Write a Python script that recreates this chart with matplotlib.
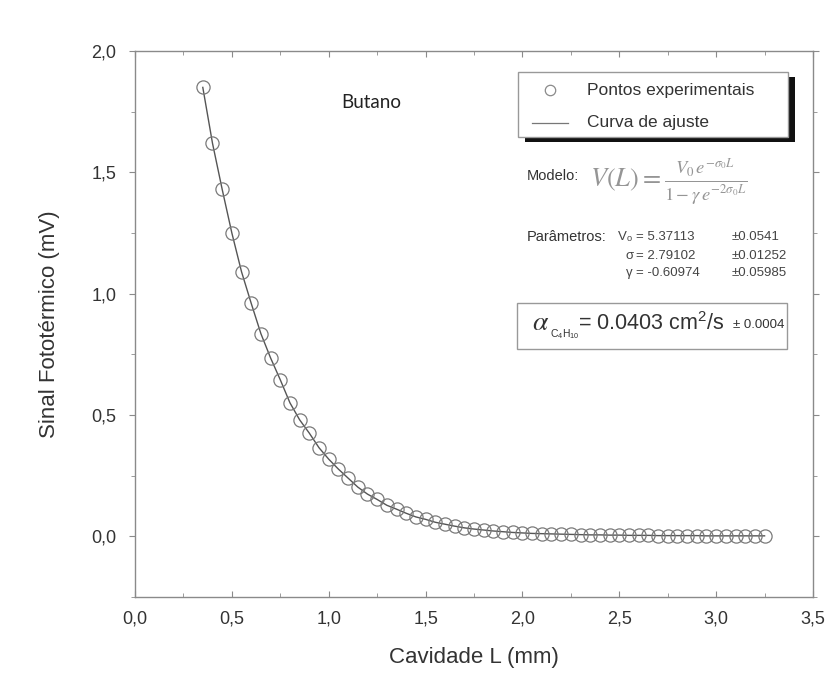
import numpy as np
import matplotlib.pyplot as plt
from matplotlib.ticker import MultipleLocator, FuncFormatter
from matplotlib.patches import Rectangle
from matplotlib.lines import Line2D

# dados
cavidade = [0.35, 0.40, 0.45, 0.50, 0.55, 0.60, 0.65, 0.70, 0.75, 0.80,
            0.85, 0.90, 0.95, 1.00, 1.05, 1.10, 1.15, 1.20, 1.25, 1.30,
            1.35, 1.40, 1.45, 1.50, 1.55, 1.60, 1.65, 1.70, 1.75, 1.80,
            1.85, 1.90, 1.95, 2.00, 2.05, 2.10, 2.15, 2.20, 2.25, 2.30,
            2.35, 2.40, 2.45, 2.50, 2.55, 2.60, 2.65, 2.70, 2.75, 2.80,
            2.85, 2.90, 2.95, 3.00, 3.05, 3.10, 3.15, 3.20, 3.25]
sinal = [1.85, 1.62, 1.43, 1.25, 1.09, 0.96, 0.835, 0.735, 0.645, 0.55,
         0.48, 0.425, 0.365, 0.318, 0.277, 0.24, 0.203, 0.174, 0.152, 0.128,
         0.112, 0.095, 0.080, 0.070, 0.058, 0.050, 0.042, 0.035, 0.030, 0.026,
         0.022, 0.019, 0.016, 0.014, 0.012, 0.011, 0.010, 0.009, 0.008, 0.007,
         0.006, 0.006, 0.005, 0.005, 0.004, 0.004, 0.004, 0.003, 0.003, 0.003,
         0.003, 0.003, 0.002, 0.002, 0.002, 0.002, 0.002, 0.002, 0.002]

W, H = 828, 689
def px(x, y):
    return x / W, 1 - y / H

plt.rcParams['font.family'] = ['Liberation Sans', 'DejaVu Sans']
plt.rcParams['mathtext.fontset'] = 'stix'
cor_txt = '#333333'
cor_eixo = '#8a8a8a'

fig = plt.figure(figsize=(8.28, 6.89), dpi=100)
ax = fig.add_axes([135 / W, 1 - 597 / H, (813 - 135) / W, (597 - 51) / H])

# curva de ajuste e pontos
ax.plot(cavidade, sinal, '-', color='#555555', lw=1.0, zorder=2)
ax.plot(cavidade, sinal, 'o', mfc='none', mec='#7a7a7a', mew=0.9, ms=9.5, zorder=3)

ax.set_xlim(0, 3.5)
ax.set_ylim(-0.25, 2.0)
ax.xaxis.set_major_locator(MultipleLocator(0.5))
ax.xaxis.set_minor_locator(MultipleLocator(0.25))
ax.yaxis.set_major_locator(MultipleLocator(0.5))
ax.yaxis.set_minor_locator(MultipleLocator(0.25))
virgula = FuncFormatter(lambda v, p: '{:.1f}'.format(v).replace('.', ','))
ax.xaxis.set_major_formatter(virgula)
ax.yaxis.set_major_formatter(virgula)

for s in ax.spines.values():
    s.set_color(cor_eixo)
    s.set_linewidth(1.0)
ax.tick_params(which='both', colors=cor_eixo, labelcolor=cor_txt, labelsize=13,
               top=True, right=True)
ax.tick_params(axis='x', which='both', direction='in', pad=10)
ax.tick_params(axis='y', which='both', direction='out', pad=9)
ax.tick_params(which='major', length=4.5)
ax.tick_params(which='minor', length=3)

ax.set_xlabel('Cavidade L (mm)', fontsize=16, color=cor_txt)
ax.set_ylabel('Sinal Fototérmico (mV)', fontsize=16, color=cor_txt)
ax.xaxis.set_label_coords(0.5, (597 - 647) / 546)
ax.yaxis.set_label_coords((60 - 135) / 678, 0.5)

# titulo interno
fig.text(*px(341, 103), 'Butano', fontsize=13.5, family='Lato', color='#222222',
         va='center', ha='left')

# legenda desenhada
x0, y0 = px(518, 137)
lw_, lh_ = (788 - 518) / W, (137 - 72) / H
fig.patches.append(Rectangle((x0 + 7 / W, y0 - 5 / H), lw_, lh_, transform=fig.transFigure,
                             facecolor='#111111', edgecolor='none', zorder=5))
fig.patches.append(Rectangle((x0, y0), lw_, lh_, transform=fig.transFigure,
                             facecolor='white', edgecolor='#999999', lw=1.0, zorder=6))
fig.lines.append(Line2D([px(550, 0)[0]], [px(0, 90)[1]], marker='o', mfc='none',
                        mec='#8a8a8a', mew=0.9, ms=7.5, transform=fig.transFigure, zorder=7))
fig.lines.append(Line2D([px(532, 0)[0], px(568, 0)[0]], [px(0, 123)[1]] * 2,
                        color='#777777', lw=0.9, transform=fig.transFigure, zorder=7))
fig.text(*px(587, 90), 'Pontos experimentais', fontsize=12.5, color='#333333',
         va='center', zorder=8)
fig.text(*px(587, 123), 'Curva de ajuste', fontsize=12.5, color='#333333',
         va='center', zorder=8)

# modelo
fig.text(*px(527, 176), 'Modelo:', fontsize=10.5, color='#333333', va='center')
fig.text(*px(590, 182), r'$V(L)=\frac{V_0\,e^{-\sigma_0 L}}{1-\gamma\,e^{-2\sigma_0 L}}$',
         fontsize=19, color='#959595', va='center')

# parametros
fig.text(*px(527, 237), 'Parâmetros:', fontsize=10.5, color='#333333', va='center')
linhas = [(617, 237, r'V$_\mathregular{o}$', '= 5.37113', '±0.0541'),
          (626, 256, 'σ', '= 2.79102', '±0.01252'),
          (626, 273, 'γ', '= -0.60974', '±0.05985')]
for xs, ys, simb, val, err in linhas:
    fig.text(*px(xs, ys), simb, fontsize=9.5, color='#444444', va='center')
    fig.text(*px(636, ys), val, fontsize=9.5, color='#444444', va='center')
    fig.text(*px(732, ys), err, fontsize=9.5, color='#444444', va='center')

# caixa da difusividade
bx, by = px(517, 349)
fig.patches.append(Rectangle((bx, by), (787 - 517) / W, (349 - 303) / H,
                             transform=fig.transFigure, facecolor='white',
                             edgecolor='#999999', lw=1.0, zorder=5))
fig.text(*px(532, 323), r'$\alpha$', fontsize=20, color='#333333',
         va='center', zorder=8)
fig.text(*px(550, 334), r'C$_\mathregular{4}$H$_\mathregular{10}$', fontsize=7.5,
         color='#333333', va='center', zorder=8)
fig.text(*px(578, 324), '= 0.0403 cm$^\\mathregular{2}$/s', fontsize=15.5, color='#333333',
         va='center', zorder=8)
fig.text(*px(733, 325), '± 0.0004', fontsize=9.5, color='#333333', va='center', zorder=8)

fig.savefig('out.png', dpi=100)
